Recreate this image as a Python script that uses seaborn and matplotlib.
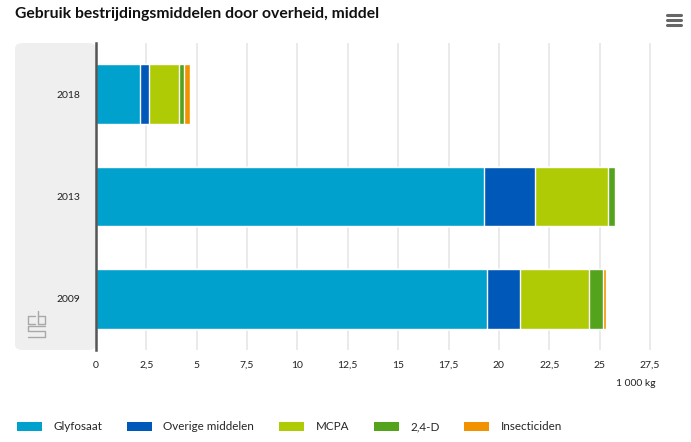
import matplotlib
matplotlib.use("Agg")
import matplotlib.pyplot as plt
from matplotlib.patches import FancyBboxPatch, Patch
import seaborn as sns
import pandas as pd
import numpy as np

years = ["2018", "2013", "2009"]
series = ["Glyfosaat", "Overige middelen", "MCPA", "2,4-D", "Insecticiden"]
glyfosaat = [2.18, 19.26, 19.41]
overige = [0.44, 2.52, 1.63]
mcpa = [1.49, 3.62, 3.45]
d24 = [0.25, 0.35, 0.66]
insecticiden = [0.33, 0.0, 0.15]
colors = ["#00a1cd", "#0058b8", "#afcb05", "#53a31d", "#f39200"]
xticks = [0, 2.5, 5, 7.5, 10, 12.5, 15, 17.5, 20, 22.5, 25, 27.5]
xticklabels = ["0", "2,5", "5", "7,5", "10", "12,5", "15", "17,5", "20", "22,5", "25", "27,5"]

sns.set_theme(style="white")
plt.rcParams['font.family'] = ['Lato', 'DejaVu Sans']

vals = np.array([glyfosaat, overige, mcpa, d24, insecticiden])
cum = np.cumsum(vals, axis=0)

fig = plt.figure(figsize=(6.91, 4.42), dpi=100)
W, H = 691, 442

# grey panel behind y labels
panel = FancyBboxPatch((15 / W, 1 - 350 / H), (96 - 15) / W, (350 - 43) / H,
                       boxstyle="round,pad=0,rounding_size=0.012",
                       transform=fig.transFigure, facecolor="#efefef",
                       edgecolor="none", zorder=0)
fig.patches.append(panel)

ax = fig.add_axes([96 / W, 1 - 350 / H, (656 - 96) / W, (350 - 43) / H])
ax.set_zorder(2)
ax.set_facecolor("none")

for i in range(len(series) - 1, -1, -1):
    df = pd.DataFrame({"year": years, "value": cum[i]})
    sns.barplot(data=df, x="value", y="year", orient="h", color=colors[i],
                width=0.585, edgecolor="white", linewidth=1.0, ax=ax,
                saturation=1, zorder=3)

ax.set_xlim(0, 27.8)
ax.set_xticks(xticks)
ax.set_xticklabels(xticklabels, fontsize=7.5, color="#222222")
ax.tick_params(axis="y", labelsize=7.5, colors="#222222", length=0, pad=11.5)
ax.tick_params(axis="x", length=0, pad=8)
ax.set_xlabel("")
ax.set_ylabel("")
ax.grid(axis="x", color="#e6e6e6", linewidth=1.2, zorder=0)
ax.set_axisbelow(True)
for s in ["top", "right", "bottom"]:
    ax.spines[s].set_visible(False)
ax.spines["left"].set_color("#555555")
ax.spines["left"].set_linewidth(1.8)
ax.spines["left"].set_zorder(5)

# small cbs-style logo in the panel
def fl(xs, ys):
    fig.add_artist(plt.Line2D([x / W for x in xs], [1 - y / H for y in ys],
                              color="#a8a8a8", linewidth=1.0, transform=fig.transFigure,
                              zorder=1))
fl([35, 28, 28, 35], [316, 316, 324, 324])          # c
fl([38, 38, 45, 45, 38], [311, 324, 324, 316, 316])  # b
fl([45, 28, 28, 45, 45, 28], [326, 326, 331, 331, 337, 337])  # s

fig.text(15 / W, 1 - 14 / H, "Gebruik bestrijdingsmiddelen door overheid, middel",
         fontsize=11.3, fontweight="bold", color="#111111", va="center", ha="left")
fig.text(656 / W, 1 - 384 / H, "1 000 kg", fontsize=7.5, color="#222222",
         ha="right", va="center")
# hamburger icon
for dy in (15, 20, 25):
    fig.add_artist(plt.Line2D([667 / W, 681 / W], [1 - dy / H, 1 - dy / H],
                              color="#666666", linewidth=2.2, transform=fig.transFigure))

handles = [Patch(facecolor=c, edgecolor="none") for c in colors]
fig.legend(handles, series, loc="center left", bbox_to_anchor=(6 / W, 1 - 427 / H),
           ncol=5, frameon=False, fontsize=8.4, handlelength=2.15, handleheight=0.85,
           columnspacing=2.1, handletextpad=1.0)

fig.savefig("out.png", dpi=100)
